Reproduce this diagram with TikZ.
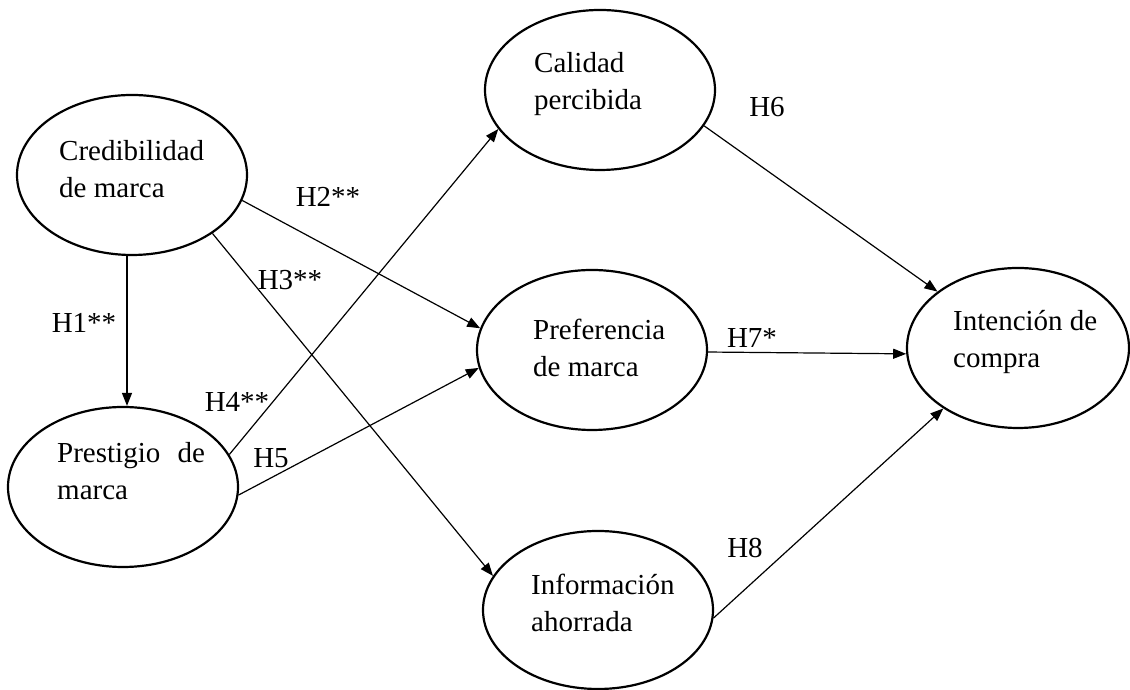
\documentclass[tikz,border=0pt]{standalone}
\usepackage{fontspec}
\setmainfont{Liberation Serif}
\usetikzlibrary{arrows.meta,shapes.geometric}
\begin{document}
\begin{tikzpicture}[x=1pt,y=1pt,
  ell/.style={draw=black,line width=2.2pt,ellipse,minimum width=230pt,minimum height=160pt,inner sep=0pt},
  txt/.style={align=left,anchor=base west,inner sep=0pt,font=\fontsize{29}{37}\selectfont},
  lab/.style={inner sep=0pt,font=\fontsize{29}{37}\selectfont},
  arr/.style={line width=1.2pt,-{Triangle[length=13pt,width=10pt]}}]
\useasboundingbox (0,0) rectangle (1130,690);
% ellipses
\node[ell] (cred) at (132,515) {};
\node[ell] (pres) at (123,203) {};
\node[ell] (cal)  at (600,600) {};
\node[ell] (pref) at (592,340) {};
\node[ell,minimum height=158pt] (info) at (598,80) {};
\node[ell,minimum width=222pt] (int)  at (1018,342) {};
% texts (anchor = baseline of last line)
\node[txt] (tcred) at (59,492) {Credibilidad\\de marca};
\node[txt] (tpres) at (57,190) {Prestigio\hspace{0.6em}de\\marca};
\node[txt] (tcal)  at (534,580) {Calidad\\percibida};
\node[txt] (tpref) at (533,313) {Preferencia\\de marca};
\node[txt] (tinfo) at (531,58) {Información\\ahorrada};
\node[txt] (tint)  at (953,322) {Intención de\\compra};
% connectors
\draw[arr] ([xshift=-5pt]cred.south) -- ([xshift=4pt]pres.north);
\draw[arr] (cred.-13.7) -- (pref.169.8);
\draw[arr] (cred.-36.5) -- (info.162);
\draw[arr] (pres.17.3) -- (cal.-159.6);
\draw[arr] (pres.-4) -- (pref.189.7);
\draw[arr] (cal.-19) -- (int.145.5);
\draw[arr] (pref.-1) -- (int.183.6);
\draw[arr] (info.-4) -- (int.219.6);
% labels
\node[lab] (h1) at (84,367) {H1**};
\node[lab] (h2) at (328,493) {H2**};
\node[lab] (h3) at (290,410) {H3**};
\node[lab] (h4) at (237,288) {H4**};
\node[lab] (h5) at (271,232) {H5};
\node[lab] (h6) at (767,583) {H6};
\node[lab] (h7) at (752,352) {H7*};
\node[lab] (h8) at (745,142) {H8};
\end{tikzpicture}
\end{document}
